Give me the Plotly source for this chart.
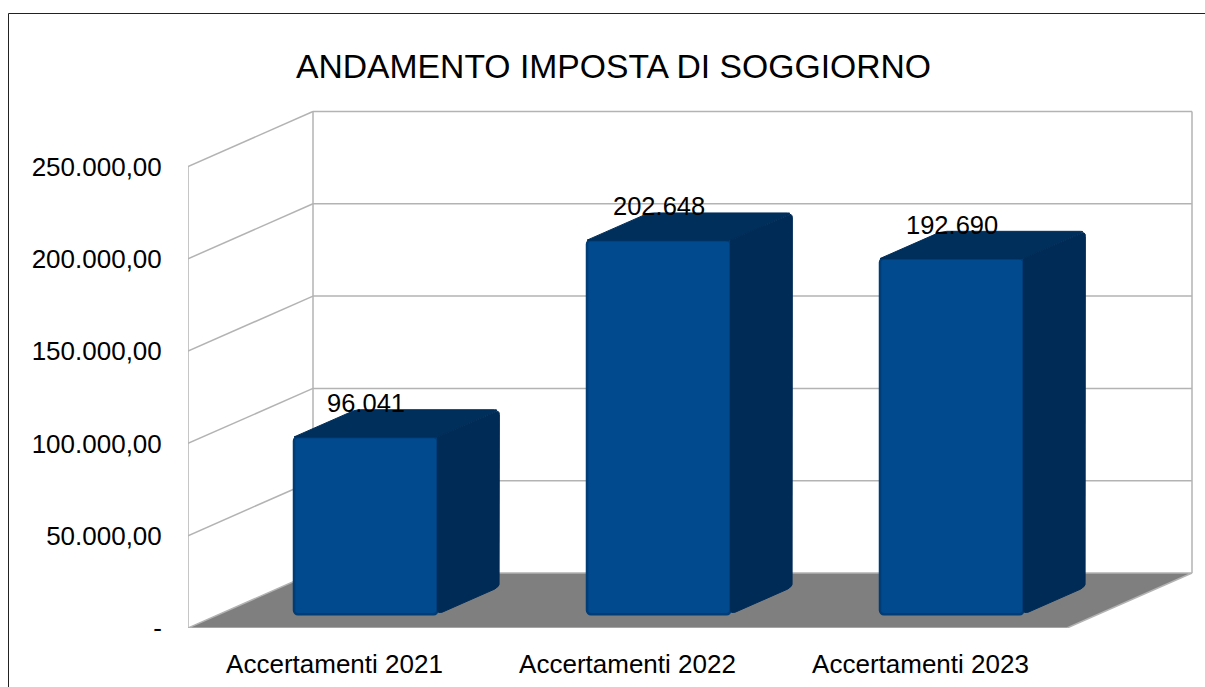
import math
import plotly.graph_objects as go

categories = ["Accertamenti 2021", "Accertamenti 2022", "Accertamenti 2023"]
values = [96041, 202648, 192690]
value_labels = ["96.041", "202.648", "192.690"]
y_ticks = [0, 50000, 100000, 150000, 200000, 250000]
y_labels = ["-", "50.000,00", "100.000,00", "150.000,00", "200.000,00", "250.000,00"]

# chart geometry (category units / value units)
W, H = 1205, 687
PL, PR, PT, PB = 188, 1195, 108, 628      # plot box in pixels
CAT_PX = 293.0
VAL_PX = 92.3 / 50000
DEPTH_X = 125 / CAT_PX                    # wall depth in category units
DEPTH_Y = 55 / VAL_PX                     # wall depth in value units
BAR_W = 143.5 / CAT_PX
NEAR, FAR = 0.25, 0.745                   # bar depth inside the floor
X0 = -0.5
X_MAX = X0 + (PR - PL) / CAT_PX
Y_MAX = (PB - PT) / VAL_PX
X_FRONT_END = X0 + len(categories)

FONT = "Liberation Sans"
GRID = "#b3b3b3"
FLOOR = "#7f7f7f"
FRONT = "#004a8d"
EDGE = "#003c75"
TOP = "#002f5c"
SIDE = "#002b56"

xs = list(range(len(categories)))
shapes = []


def seg(x0, y0, x1, y1, color=GRID, width=1.5):
    shapes.append(dict(type="line", xref="x", yref="y", x0=x0, y0=y0, x1=x1, y1=y1,
                       line=dict(color=color, width=width), layer="below"))


def rounded(poly, corners, r=5):
    """Return the closed polygon with the listed corner indices softened by r pixels."""
    n = len(poly)
    out_x, out_y = [], []
    for i, (x, y) in enumerate(poly):
        if i not in corners:
            out_x.append(x)
            out_y.append(y)
            continue
        a, b = poly[i - 1], poly[(i + 1) % n]
        def toward(q):
            dx_px, dy_px = (q[0] - x) * CAT_PX, (q[1] - y) * VAL_PX
            k = r / math.hypot(dx_px, dy_px)
            return x + (q[0] - x) * k, y + (q[1] - y) * k
        p0, p2 = toward(a), toward(b)
        for s in (0, 0.25, 0.5, 0.75, 1):
            out_x.append((1 - s) ** 2 * p0[0] + 2 * s * (1 - s) * x + s ** 2 * p2[0])
            out_y.append((1 - s) ** 2 * p0[1] + 2 * s * (1 - s) * y + s ** 2 * p2[1])
    out_x.append(out_x[0])
    out_y.append(out_y[0])
    return out_x, out_y


# floor
shapes.append(dict(type="path", xref="x", yref="y", layer="below",
                   path=f"M{X0},0 L{X_FRONT_END},0 L{X_FRONT_END + DEPTH_X},{DEPTH_Y} "
                        f"L{X0 + DEPTH_X},{DEPTH_Y} Z",
                   fillcolor=FLOOR, line=dict(color=GRID, width=1.5)))
# walls and gridlines
top = y_ticks[-1]
seg(X0, 0, X0, top)
seg(X0 + DEPTH_X, DEPTH_Y, X0 + DEPTH_X, top + DEPTH_Y)
seg(X_FRONT_END + DEPTH_X, DEPTH_Y, X_FRONT_END + DEPTH_X, top + DEPTH_Y)
for t in y_ticks[1:]:
    seg(X0, t, X0 + DEPTH_X, t + DEPTH_Y)
    seg(X0 + DEPTH_X, t + DEPTH_Y, X_FRONT_END + DEPTH_X, t + DEPTH_Y)

# outer frame of the image, in paper fractions
px_w, px_h = PR - PL, PB - PT
shapes.append(dict(type="rect", xref="paper", yref="paper", layer="below",
                   x0=(8.5 - PL) / px_w, x1=(W + 20 - PL) / px_w,
                   y0=(PB - H - 20) / px_h, y1=(PB - 13.5) / px_h,
                   line=dict(color="#222222", width=1), fillcolor="rgba(0,0,0,0)"))

fig = go.Figure()

bar_x = [x + NEAR * DEPTH_X for x in xs]
base = NEAR * DEPTH_Y
fig.add_trace(go.Bar(x=bar_x, y=values, base=[base] * len(values), width=BAR_W,
                     marker=dict(color=FRONT, line=dict(color=EDGE, width=2.5), cornerradius=4),
                     hoverinfo="skip", showlegend=False))

dep = FAR - NEAR
for bx, v in zip(bar_x, values):
    l, r = bx - BAR_W / 2, bx + BAR_W / 2
    b, t = base, base + v
    ddx, ddy = dep * DEPTH_X, dep * DEPTH_Y
    tx, ty = rounded([(l, t), (r, t), (r + ddx, t + ddy), (l + ddx, t + ddy)], {2, 3})
    fig.add_trace(go.Scatter(x=tx, y=ty, mode="lines", fill="toself", fillcolor=TOP,
                             line=dict(color=TOP, width=1), hoverinfo="skip", showlegend=False))
    sx, sy = rounded([(r, t), (r + ddx, t + ddy), (r + ddx, b + ddy), (r, b)], {1, 2, 3})
    fig.add_trace(go.Scatter(x=sx, y=sy, mode="lines", fill="toself", fillcolor=SIDE,
                             line=dict(color=SIDE, width=1), hoverinfo="skip", showlegend=False))

annotations = [dict(x=bx, y=base + v, xref="x", yref="y", text=lab, showarrow=False,
                    yshift=34, font=dict(family=FONT, size=25.5, color="black"))
               for bx, v, lab in zip(bar_x, values, value_labels)]

fig.update_layout(
    width=W, height=H, autosize=False,
    margin=dict(l=PL, r=W - PR, t=PT, b=H - PB, pad=0),
    paper_bgcolor="white", plot_bgcolor="rgba(0,0,0,0)",
    font=dict(family=FONT, color="black"),
    title=dict(text="ANDAMENTO IMPOSTA DI SOGGIORNO", x=613.5 / W, xanchor="center",
               y=1 - 66 / H, yanchor="middle", font=dict(family=FONT, size=33.7, color="black")),
    shapes=shapes, annotations=annotations,
    xaxis=dict(range=[X0, X_MAX], tickvals=xs, ticktext=categories, showgrid=False, zeroline=False,
               showline=False, ticks="outside", ticklen=13, tickcolor="rgba(0,0,0,0)", automargin=False,
               tickfont=dict(family=FONT, size=26, color="black")),
    yaxis=dict(range=[0, Y_MAX], tickvals=y_ticks, ticktext=y_labels, showgrid=False, zeroline=False,
               showline=False, ticks="outside", ticklen=20, tickcolor="rgba(0,0,0,0)", automargin=False,
               tickfont=dict(family=FONT, size=26, color="black")),
)

fig.write_html("out.html", post_script="document.body.style.margin='0';", config=dict(displayModeBar=False))
